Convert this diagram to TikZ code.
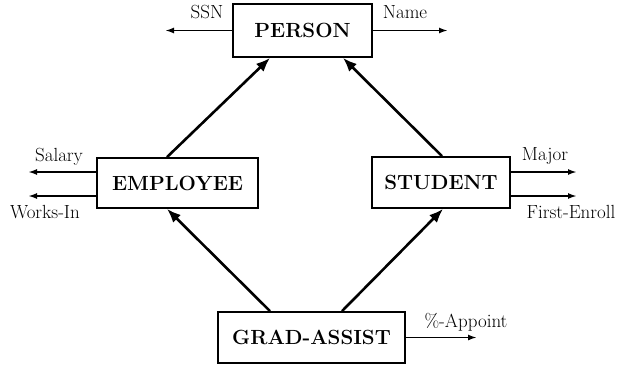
\documentclass[tikz,border=0pt]{standalone}
\usepackage{fontspec}
\usetikzlibrary{arrows.meta}

\begin{document}
\begin{tikzpicture}[x=1pt,y=-1pt,
    entity/.style={draw,line width=1.8pt,inner sep=0pt,
      font=\fontsize{20.5}{22}\selectfont\bfseries},
    attr/.style={inner sep=0pt,font=\fontsize{19}{21}\selectfont},
    isa/.style={line width=2.6pt,-{Latex[length=14pt,width=11pt]}},
    prop/.style={line width=1.8pt,-{Latex[length=9pt,width=6pt]}}]
    \useasboundingbox (0,0) rectangle (626,370);
    \node[entity,minimum width=139pt,minimum height=53pt] (person) at (302.5,30.5) {PERSON};
    \node[entity,minimum width=161pt,minimum height=50pt] (employee) at (177.5,183) {EMPLOYEE};
    \node[entity,minimum width=138pt,minimum height=51pt] (student) at (441,182.5) {STUDENT};
    \node[entity,minimum width=187pt,minimum height=51pt] (grad) at (311.5,337.5) {GRAD-ASSIST};
    % attributes
    \coordinate (ssn) at (165,30.5);
    \coordinate (name) at (448,30.5);
    \coordinate (salary) at (28,172);
    \coordinate (worksin) at (28,196);
    \coordinate (major) at (577,172);
    \coordinate (firstenroll) at (577,196);
    \coordinate (appoint) at (477,337.5);
    \draw[prop] (person.west) -- (ssn);
    \draw[prop] (person.east) -- (name);
    \draw[prop] (employee.west |- salary) -- (salary);
    \draw[prop] (employee.west |- worksin) -- (worksin);
    \draw[prop] (student.east |- major) -- (major);
    \draw[prop] (student.east |- firstenroll) -- (firstenroll);
    \draw[prop] (grad.east) -- (appoint);
    \node[attr] (ssnlabel) at (207,12) {SSN};
    \node[attr] (namelabel) at (405,12) {Name};
    \node[attr] (salarylabel) at (59,157) {Salary};
    \node[attr] (worksinlabel) at (45,212) {Works-In};
    \node[attr] (majorlabel) at (545,156) {Major};
    \node[attr] (firstenrolllabel) at (571,212) {First-Enroll};
    \node[attr] (appointlabel) at (466,322) {\%-Appoint};
    % is-a links
    \draw[isa] ([xshift=-10.5pt]employee.north) -- ([xshift=-32.5pt]person.south);
    \draw[isa] ([xshift=1pt]student.north) -- ([xshift=40.5pt]person.south);
    \draw[isa] ([xshift=-41.5pt]grad.north) -- ([xshift=-10.5pt]employee.south);
    \draw[isa] ([xshift=30.5pt]grad.north) -- ([xshift=2pt]student.south);
\end{tikzpicture}
\end{document}
